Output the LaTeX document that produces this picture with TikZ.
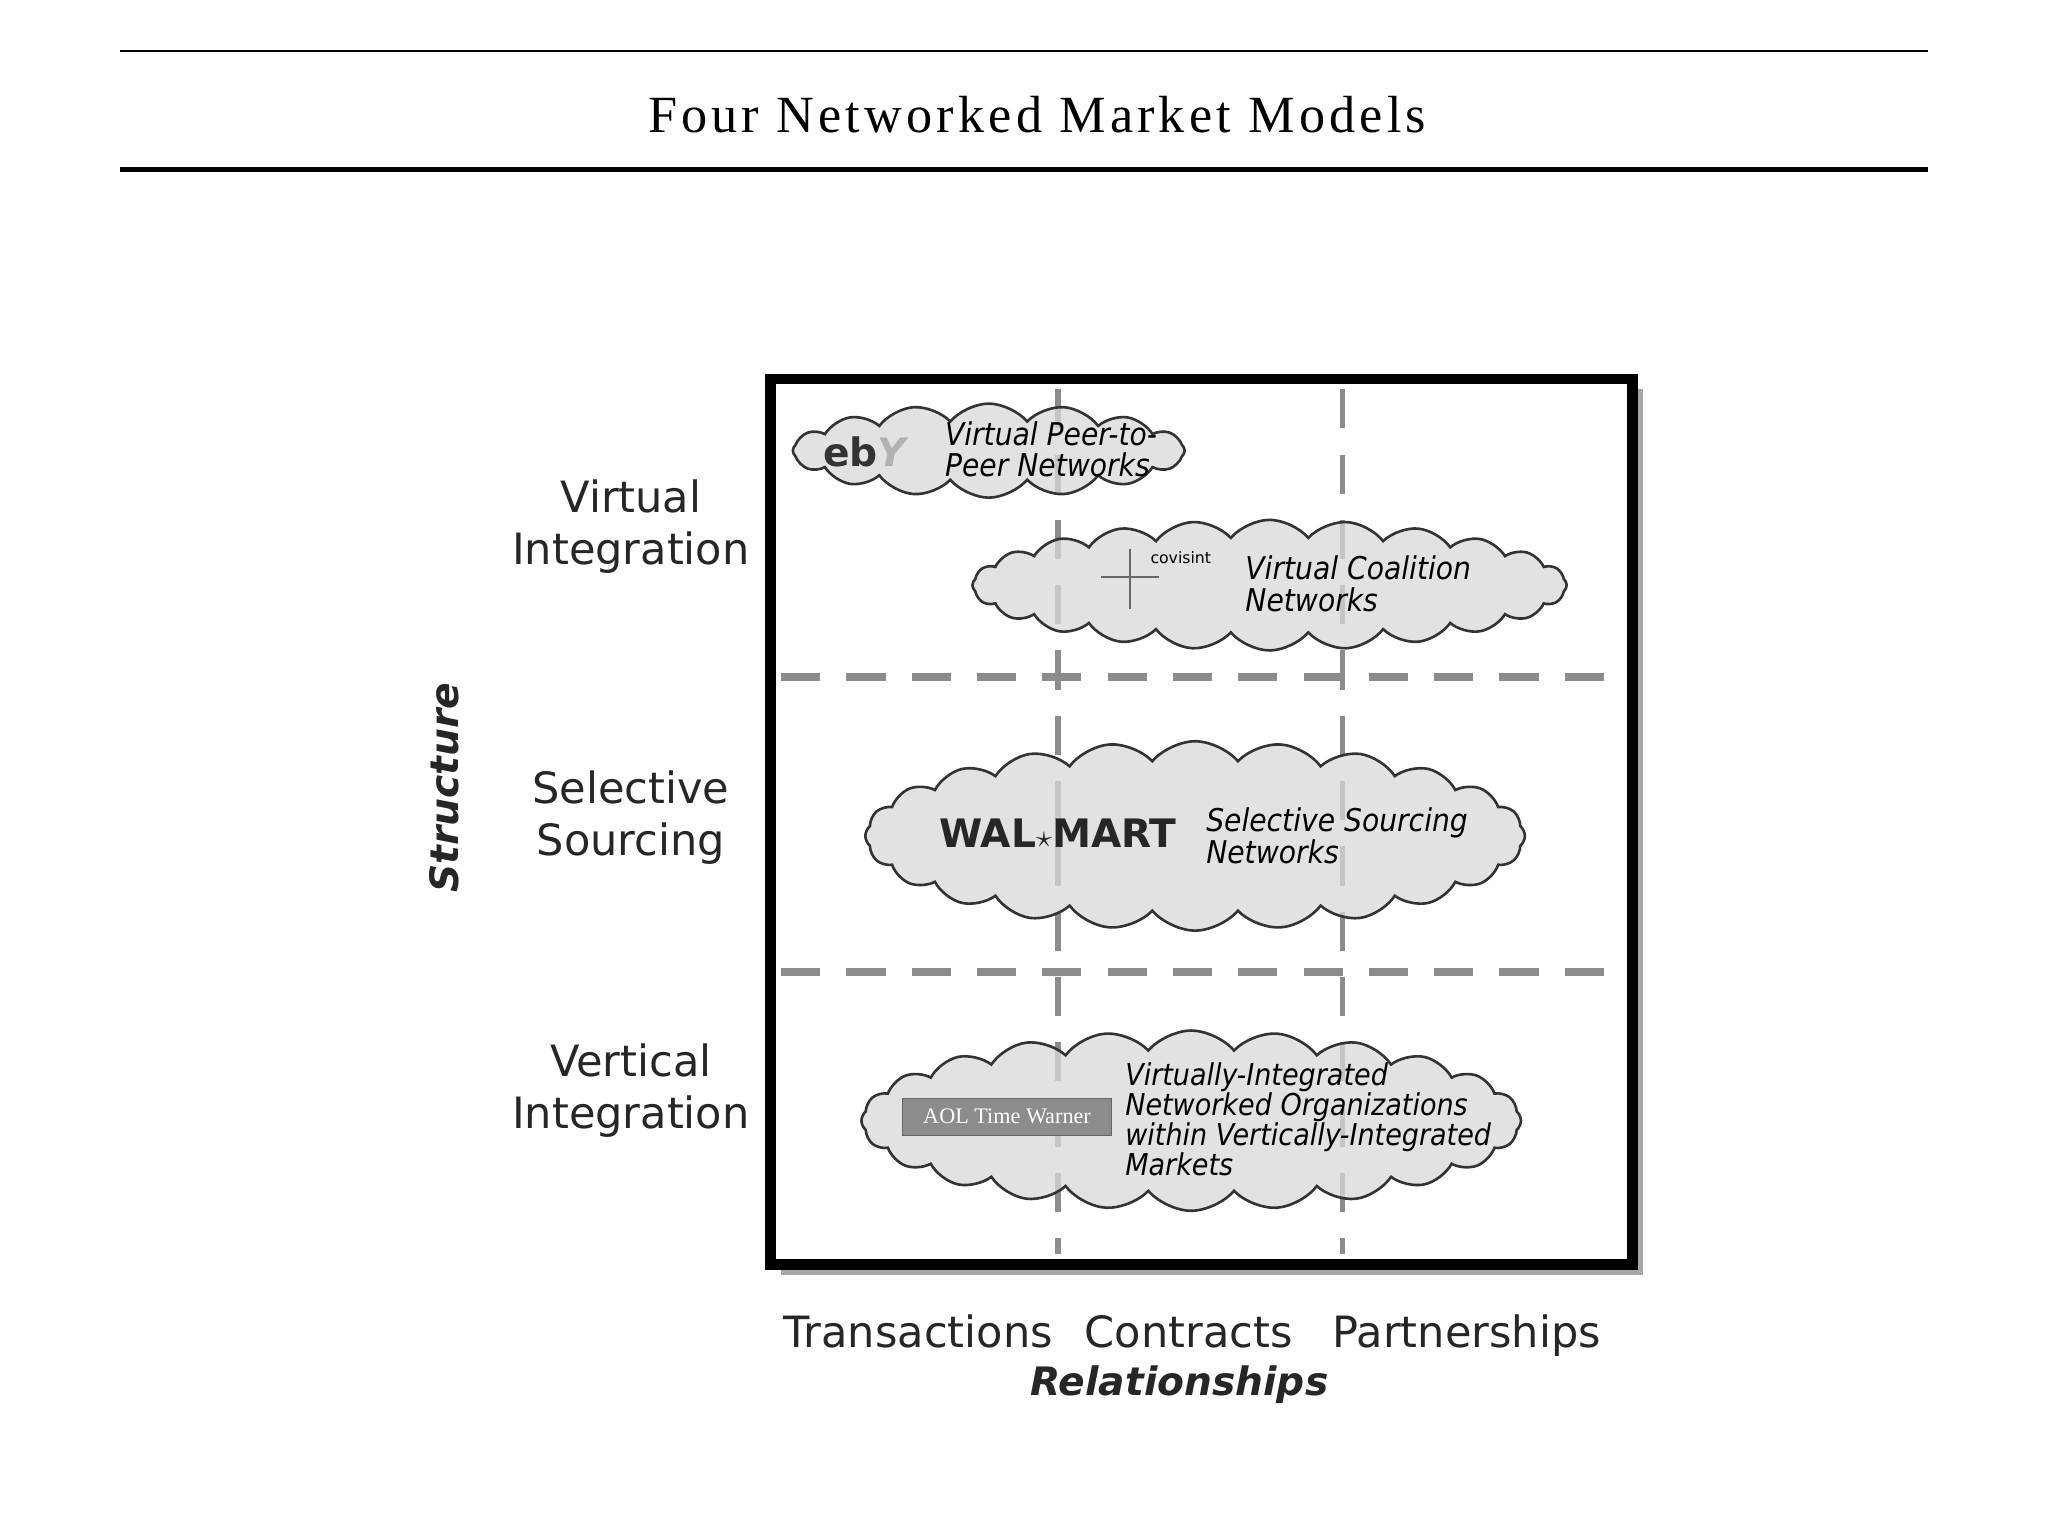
\documentclass[tikz,border=0pt]{standalone}
\usepackage{fontspec}
\setmainfont{Liberation Serif}
\newfontfamily\lab{DejaVu Sans}
\newfontfamily\cl{DejaVu Sans Condensed}
\usetikzlibrary{shapes.symbols}
\begin{document}
\begin{tikzpicture}[x=1pt,y=-1pt,
  side/.style={font=\lab\fontsize{33}{40}\selectfont,align=center,text=black!85},
  cloudn/.style={cloud,cloud puffs=24,cloud puff arc=100,draw=black!80,line width=2pt,fill=black!15,fill opacity=0.75},
  ct/.style={font=\cl\itshape\fontsize{24}{24}\selectfont,align=left},
  dsh/.style={draw=black!45,dash pattern=on 30pt off 20pt}]
\useasboundingbox (0,0) rectangle (1568,1176);
\draw[line width=2pt] (92,39) -- (1476,39);
\draw[line width=4pt] (92,130) -- (1476,130);
\node (title) at (794,88) {\fontsize{40}{48}\selectfont\addfontfeature{LetterSpace=8}Four Networked Market Models};
% grid
\fill[black!35] (598,298) rectangle (1258,976);
\fill[white] (590,290) rectangle (1250,968);
\draw[dsh,line width=6pt] (598,518) -- (1245,518);
\draw[dsh,line width=6pt] (598,744) -- (1245,744);
\draw[dsh,line width=4pt] (810,298) -- (810,960);
\draw[dsh,line width=4pt] (1028,298) -- (1028,960);
% clouds
\node[cloudn,minimum width=300pt,minimum height=72pt,cloud puffs=16] (c1) at (757,345) {};
\node[cloudn,minimum width=455pt,minimum height=100pt] (c2) at (972,448) {};
\node[cloudn,minimum width=505pt,minimum height=145pt] (c3) at (915,640) {};
\node[cloudn,minimum width=505pt,minimum height=138pt] (c4) at (912,858) {};
\node[font=\lab\bfseries\fontsize{30}{30}\selectfont,text=black!80] (eb) at (662,346) {eb\textcolor{black!30}{\itshape Y}};
\node[ct,anchor=west] (t1) at (720,344) {Virtual Peer-to-\\Peer Networks};
\draw[black!60,line width=1.5pt] (843,442) -- (887,442) (865,420) -- (865,466);
\node[font=\lab\fontsize{12}{12}\selectfont] (cov) at (904,427) {covisint};
\node[ct,anchor=west] (t2) at (950,447) {Virtual Coalition\\Networks};
\node[font=\lab\bfseries\fontsize{30}{30}\selectfont,text=black!85] (wm) at (810,638) {WAL$\star$MART};
\node[ct,anchor=west] (t3) at (920,640) {Selective Sourcing\\Networks};
\node[draw=black!60,fill=black!45,minimum width=160pt,minimum height=28pt,text=white,font=\fontsize{17}{17}\selectfont] (aol) at (771,855) {AOL Time Warner};
\node[ct,anchor=west,font=\cl\itshape\fontsize{23}{23}\selectfont] (t4) at (858,857) {Virtually-Integrated\\Networked Organizations\\within Vertically-Integrated\\Markets};
\draw[line width=8pt] (590,290) rectangle (1250,968);
% labels
\node[side] (l1) at (483,403) {Virtual\\Integration};
\node[side] (l2) at (483,626) {Selective\\Sourcing};
\node[side] (l3) at (483,835) {Vertical\\Integration};
\node[rotate=90,font=\lab\bfseries\itshape\fontsize{30}{30}\selectfont,text=black!85] (st) at (340,603) {Structure};
\node[side,anchor=base] (b1) at (703,1032) {Transactions};
\node[side,anchor=base] (b2) at (910,1032) {Contracts};
\node[side,anchor=base] (b3) at (1123,1032) {Partnerships};
\node[font=\lab\bfseries\itshape\fontsize{30}{30}\selectfont,text=black!85] (rel) at (903,1060) {Relationships};
\end{tikzpicture}
\end{document}
